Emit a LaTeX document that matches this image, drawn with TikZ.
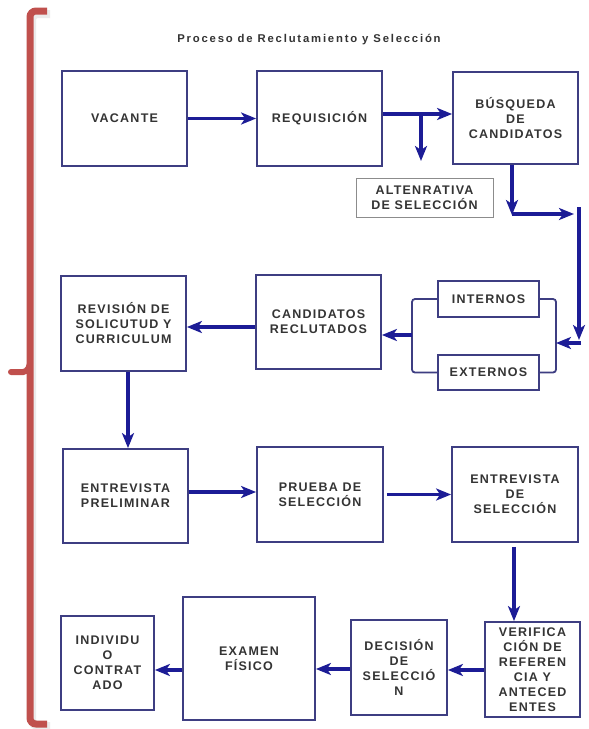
\documentclass[tikz,border=0pt]{standalone}
\usepackage{fontspec}
\usetikzlibrary{arrows.meta}
\newfontfamily\boxfont[LetterSpace=10]{Liberation Sans}
\newfontfamily\titlefont[LetterSpace=16]{Liberation Sans}
\definecolor{bracketred}{RGB}{192,80,77}
\definecolor{boxline}{RGB}{62,62,130}
\definecolor{arrowblue}{RGB}{28,28,150}
\definecolor{inktext}{RGB}{52,52,52}
\definecolor{altline}{RGB}{140,140,140}
\tikzset{
  stepbox/.style={draw=boxline, line width=1.8pt, fill=white, inner sep=0pt,
    align=center, text=inktext,
    font=\boxfont\bfseries\fontsize{12.5}{15}\selectfont},
  altbox/.style={draw=altline, line width=0.9pt, fill=white, inner sep=0pt,
    align=center, text=inktext,
    font=\boxfont\bfseries\fontsize{12.5}{15}\selectfont},
  flow/.style={draw=arrowblue, line width=3.2pt,
    -{Stealth[length=15pt,width=12pt,inset=4pt]}},
  branchline/.style={draw=boxline, line width=1.8pt, rounded corners=3pt},
}
\begin{document}
\begin{tikzpicture}[x=1pt,y=-1pt]
\useasboundingbox (0,0) rectangle (589,729);
\fill[white] (0,0) rectangle (589,729);

% red side bracket with soft shadow
\draw[black!30, line width=8pt, rounded corners=6pt, opacity=0.25]
  (50,14) -- (32,14) -- (32,726) -- (50,726);
\draw[bracketred, line width=7pt, rounded corners=6pt]
  (47,11) -- (30,11) -- (30,724) -- (47,724);
\draw[bracketred, line width=6pt, line cap=round, rounded corners=4pt]
  (30,364) -- (27,372) -- (11,372);

% title
\node[text=inktext, font=\titlefont\bfseries\fontsize{11.3}{13}\selectfont]
  (title) at (309,40) {Proceso de Reclutamiento y Selección};

% row 1
\node[stepbox, minimum width=125, minimum height=95] (vac) at (124.5,118.5) {VACANTE};
\node[stepbox, minimum width=125, minimum height=95] (req) at (319.5,118.5) {REQUISICIÓN};
\node[stepbox, minimum width=125, minimum height=92] (bus) at (515.5,118) {BÚSQUEDA\\DE\\CANDIDATOS};
\node[altbox, minimum width=137, minimum height=39] (alt) at (424.5,197.5) {ALTENRATIVA\\DE SELECCIÓN};

% row 2
\node[stepbox, minimum width=125, minimum height=95] (rev) at (123.5,323.5) {REVISIÓN DE\\SOLICUTUD Y\\CURRICULUM};
\node[stepbox, minimum width=125, minimum height=94] (cand) at (318.5,322) {CANDIDATOS\\RECLUTADOS};
\node[stepbox, minimum width=101, minimum height=36] (int) at (488.5,299) {INTERNOS};
\node[stepbox, minimum width=101, minimum height=35] (ext) at (488.5,372.5) {EXTERNOS};

% row 3
\node[stepbox, minimum width=125, minimum height=94] (prel) at (125.5,496) {ENTREVISTA\\PRELIMINAR};
\node[stepbox, minimum width=126, minimum height=95] (pru) at (320,494.5) {PRUEBA DE\\SELECCIÓN};
\node[stepbox, minimum width=126, minimum height=95] (ent) at (515,494.5) {ENTREVISTA\\DE\\SELECCIÓN};

% row 4
\node[stepbox, minimum width=93, minimum height=94] (ind) at (107.5,663) {INDIVIDU\\O\\CONTRAT\\ADO};
\node[stepbox, minimum width=132, minimum height=123] (exa) at (249,658.5) {EXAMEN\\FÍSICO};
\node[stepbox, minimum width=96, minimum height=95] (dec) at (399,667.5) {DECISIÓN\\DE\\SELECCIÓ\\N};
\node[stepbox, minimum width=95, minimum height=95] (ver) at (532.5,669.5) {VERIFICA\\CIÓN DE\\REFEREN\\CIA Y\\ANTECED\\ENTES};

% connectors, row 1
\draw[flow] (vac) -- (req);
\draw[flow] ([yshift=4.5pt]req.east) coordinate (t1) -- (bus.west |- t1);
\coordinate (split) at (421,114);
\coordinate (splitend) at (421,161);
\draw[flow] (split) -- (splitend);

% route from the search box down to the candidate sources
\coordinate (d1) at (512,215);
\coordinate (d2) at (574,214);
\coordinate (d3) at (579,207);
\coordinate (d4) at (579,340);
\coordinate (d5) at (581,343);
\draw[flow] (bus.south -| d1) -- (d1);
\draw[flow] (d1 |- d2) -- (d2);
\draw[flow] (d3) -- (d4);

% internal / external sources joined on both sides
\coordinate (lj) at (412,335);
\coordinate (rj) at (556,343);
\draw[branchline] (int.west) -| (lj) |- (ext.west);
\draw[branchline] (int.east) -| (rj) |- (ext.east);
\draw[flow] (d5) -- (rj);
\draw[flow] (lj) -- (cand.east |- lj);

% row 2 and 3
\draw[flow] ([yshift=-5pt]cand.west) coordinate (t2) -- (rev.east |- t2);
\draw[flow] (rev.south -| 128,0) -- (prel.north -| 128,0);
\draw[flow] ([yshift=4pt]prel.east) coordinate (t3) -- (pru.west |- t3);
\draw[flow] ([xshift=3pt]pru.east) -- (ent.west);
\draw[flow] (ent.south -| 514,0) ++(0,4) -- (ver.north -| 514,0);

% row 4
\draw[flow] ([yshift=-0.5pt]ver.west) coordinate (t4) -- (dec.east |- t4);
\draw[flow] ([yshift=-1.5pt]dec.west) coordinate (t5) -- (exa.east |- t5);
\draw[flow] ([yshift=-11.5pt]exa.west) coordinate (t6) -- (ind.east |- t6);
\end{tikzpicture}
\end{document}
